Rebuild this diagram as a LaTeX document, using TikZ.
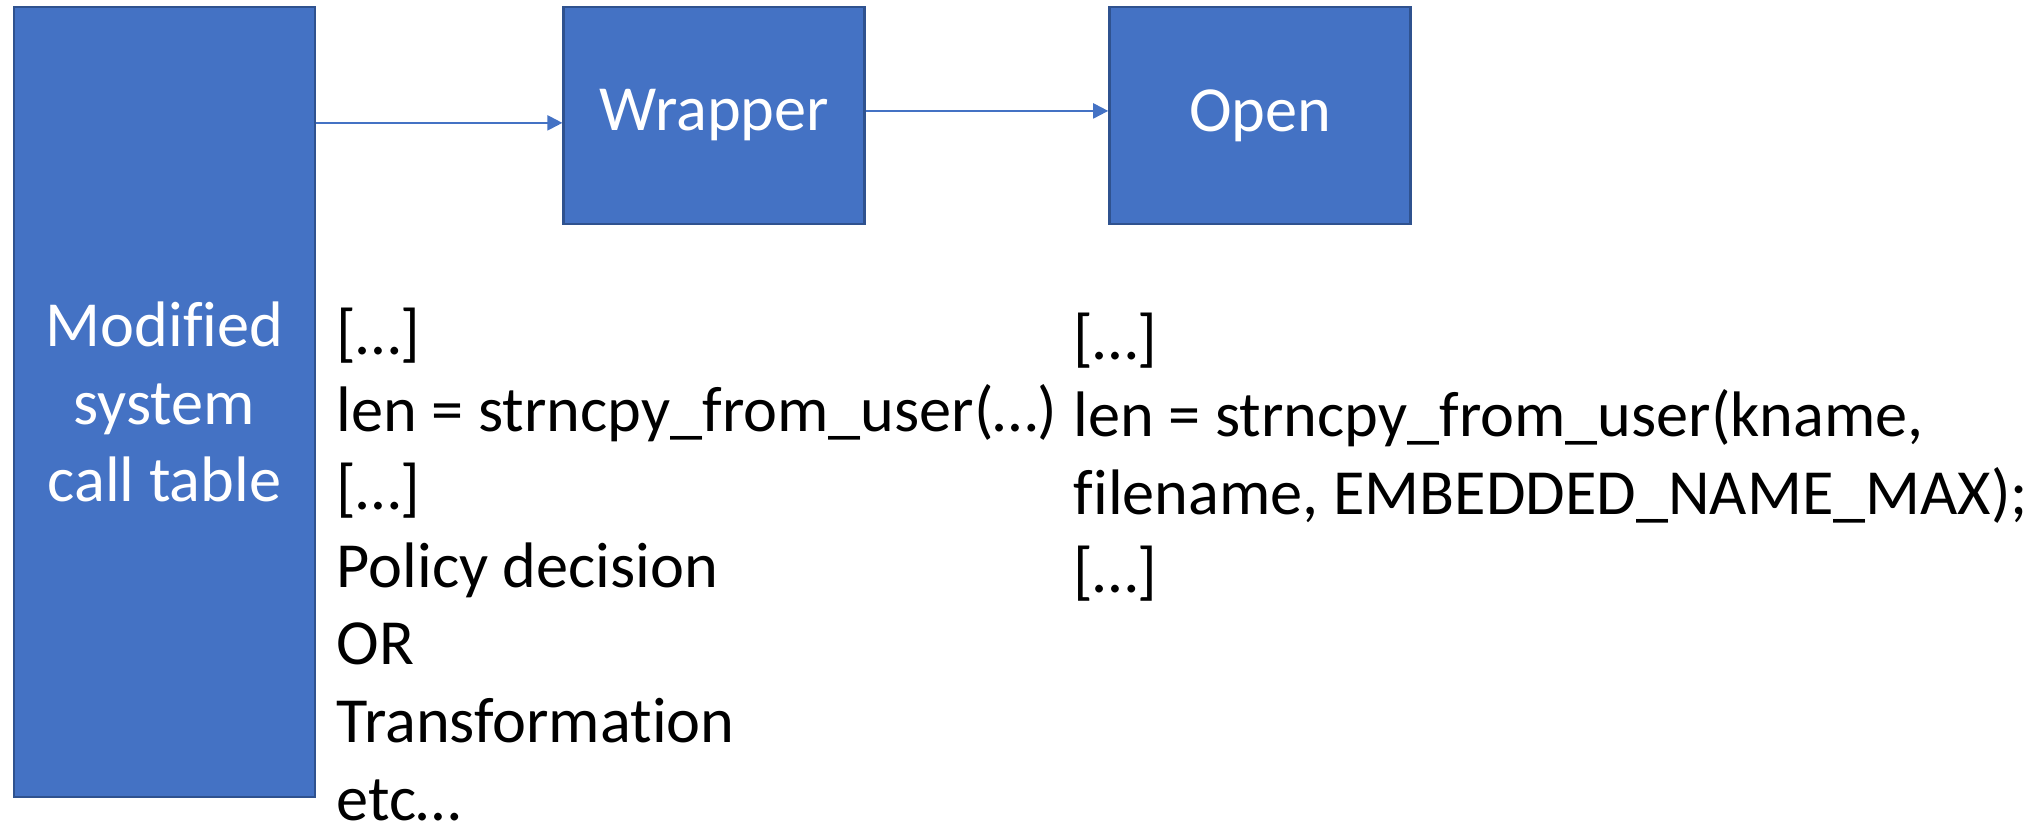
\documentclass[tikz,border=0pt]{standalone}
\usepackage{fontspec}
\setmainfont{Carlito}[Ligatures=NoCommon]
\usepackage{tikz}
\usetikzlibrary{positioning,arrows.meta}

\definecolor{boxblue}{RGB}{68,114,196}
\definecolor{boxedge}{RGB}{47,82,143}

\tikzset{
    block/.style={shape=rectangle, draw=boxedge, line width=0.8pt, fill=boxblue,
        text=white, minimum width=3.01cm, minimum height=2.17cm, inner sep=0pt},
    flow/.style={-{Triangle[length=0.15cm,width=0.15cm]}, draw=boxblue, line width=0.6pt},
    code/.style={align=left, anchor=base west, inner sep=0pt, text=black}
}

\begin{document}
\begin{tikzpicture}[font=\fontsize{18.3}{22.08}\selectfont]
            \useasboundingbox (0,0) rectangle (20.33,8.22);
            \begin{scope} [node distance=2.42cm]
                \node[block, minimum height=7.9cm, align=center] (SysTable) at (1.645,4.20) {Modified\\system\\call table};
                \node[block] (Wrapper) [right=2.46cm of SysTable.north east, anchor=north west] {Wrapper};
                \node[block] (Open) [right=of Wrapper] {Open};
            \end{scope}
            \draw[flow] ([yshift=-2.1pt]Wrapper.west -| SysTable.east) -- ([yshift=-2.1pt]Wrapper.west);
            \draw[flow] ([yshift=1.3pt]Wrapper.east) -- ([yshift=1.3pt]Open.west);
            % code excerpts under the boxes (base = last line)
            \node[code] (WrapperCode) at (3.36,0.02) {{[…]}\\len = strncpy\_from\_user(…)\\{[…]}\\Policy decision\\OR\\Transformation\\etc…};
            \node[code] (OpenCode) at (10.73,2.30) {{[…]}\\len = strncpy\_from\_user(kname,\\filename, EMBEDDED\_NAME\_MAX);\\{[…]}};
        \end{tikzpicture}
\end{document}
